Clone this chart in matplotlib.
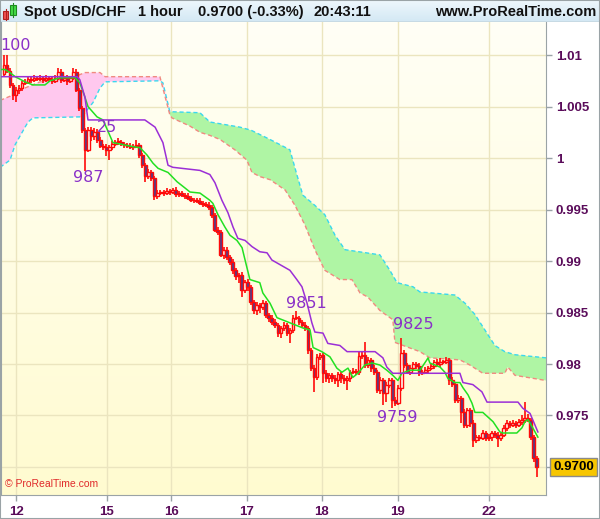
import numpy as np
import matplotlib.pyplot as plt
from matplotlib.colors import LinearSegmentedColormap
from matplotlib.patches import Rectangle
from matplotlib.transforms import blended_transform_factory

# hourly closes, Spot USD/CHF
closes = [
    1.0090, 1.0085, 1.0071, 1.0061, 1.0066, 1.0068, 1.0073, 1.0074, 1.0077, 1.0076,
    1.0078, 1.0077, 1.0078, 1.0076, 1.0078, 1.0077, 1.0075, 1.0078, 1.0084, 1.0076,
    1.0078, 1.0075, 1.0078, 1.0084, 1.0066, 1.0049, 1.0027, 1.0008, 1.0027,
    1.0021, 1.0025, 1.0018, 1.0012, 1.0011, 1.0008, 1.0011, 1.0014, 1.0016, 1.0016,
    1.0014, 1.0013, 1.0012, 1.0011, 1.0012, 1.0013, 1.0003, 0.9993, 0.9983, 0.9986,
    0.9981, 0.9963, 0.9966, 0.9967, 0.9966, 0.9968, 0.9967, 0.9969, 0.9965, 0.9966,
    0.9964, 0.9963, 0.9961, 0.9959, 0.9959, 0.9958, 0.9956, 0.9955, 0.9954, 0.9952,
    0.9945, 0.9930, 0.9928, 0.9906, 0.9911, 0.9904, 0.9899, 0.9891, 0.9885, 0.9886,
    0.9872, 0.9880, 0.9875, 0.9860, 0.9852, 0.9857, 0.9855, 0.9859, 0.9848, 0.9845,
    0.9841,
    0.9838, 0.9830, 0.9835, 0.9838, 0.9830, 0.9833, 0.9845, 0.9845, 0.9841, 0.9838,
    0.9835, 0.9814, 0.9796, 0.9787, 0.9807, 0.9809, 0.9791, 0.9786, 0.9789, 0.9786,
    0.9784, 0.9790, 0.9786, 0.9784, 0.9786, 0.9792, 0.9793, 0.9792, 0.9808, 0.9809,
    0.9799, 0.9804, 0.9796, 0.9792, 0.9775, 0.9784, 0.9772, 0.9780, 0.9784, 0.9765,
    0.9762, 0.9777, 0.9811, 0.9799, 0.9792, 0.9796, 0.9800, 0.9798, 0.9791, 0.9792,
    0.9794, 0.9796, 0.9798, 0.9802, 0.9800, 0.9802, 0.9802, 0.9804, 0.9784, 0.9781,
    0.9765, 0.9767, 0.9753, 0.9741, 0.9755, 0.9743, 0.9726, 0.9729, 0.9728, 0.9733,
    0.9728, 0.9729, 0.9733, 0.9731, 0.9728, 0.9731, 0.9738, 0.9743, 0.9741, 0.9743,
    0.9741, 0.9744, 0.9746, 0.9748, 0.9746, 0.9729, 0.9709, 0.9700,
]
first_open = 1.0082

# wick lengths in pips above / below the body
up_pips = [
    10, 10, 2, 2, 3, 3, 2, 3, 3, 2, 3, 2, 3, 2, 3, 2, 2, 3, 3, 2, 2, 3, 2, 3, 2, 2, 2, 2, 3,
    3, 4, 3, 2, 2, 3, 2, 3, 2, 3, 2, 2, 2, 3, 2, 5, 2, 2, 2, 3, 2, 2, 3, 2, 2, 3, 2, 2, 3, 2,
    2, 2, 3, 2, 2, 2, 3, 2, 2, 3, 2, 2, 3, 2, 3, 3, 2, 3, 2, 2, 3, 2, 3, 2, 2, 3, 2, 3, 2, 2, 3,
    3, 2, 2, 3, 2, 2, 3, 6, 2, 2, 3, 2, 2, 3, 3, 2, 2, 3, 2, 2, 3, 2, 2, 3, 2, 2, 3, 2, 5, 3,
    12, 3, 2, 3, 2, 3, 2, 3, 2, 2, 3, 3, 14, 3, 2, 3, 2, 2, 3, 2, 3, 2, 3, 2, 3, 4, 2, 3, 2, 3,
    2, 3, 2, 3, 2, 2, 3, 2, 2, 3, 2, 3, 2, 2, 3, 2, 3, 3, 2, 3, 2, 3, 4, 15, 3, 2, 2, 2,
]
low_pips = [
    3, 2, 3, 5, 7, 4, 3, 2, 2, 3, 2, 2, 2, 3, 2, 3, 3, 2, 2, 3, 2, 4, 2, 2, 2, 3, 3, 21, 2,
    4, 3, 3, 2, 3, 6, 10, 3, 2, 3, 2, 3, 2, 2, 3, 2, 3, 3, 6, 3, 3, 4, 3, 2, 3, 2, 3, 2, 3, 3,
    2, 3, 2, 2, 3, 2, 2, 3, 2, 2, 3, 2, 3, 2, 4, 3, 3, 4, 3, 6, 7, 3, 4, 3, 3, 4, 5, 3, 3, 4, 3,
    3, 4, 5, 3, 3, 10, 3, 2, 3, 2, 3, 4, 3, 14, 3, 3, 9, 3, 4, 3, 3, 6, 4, 3, 9, 3, 2, 3, 3, 3,
    3, 3, 4, 3, 3, 4, 12, 9, 3, 8, 3, 2, 3, 3, 2, 3, 2, 3, 3, 2, 2, 3, 2, 3, 2, 3, 2, 2, 4, 3,
    3, 3, 10, 3, 3, 4, 7, 3, 3, 2, 3, 3, 4, 3, 9, 3, 2, 3, 3, 2, 3, 2, 3, 3, 2, 3, 4, 10,
]

# Ichimoku lines (bar position, price)
tenkan_x = [-1.3, 0.3, 2.0, 3.7, 7.0, 9.6, 13.6, 15.3, 18.6, 23.6, 25.2, 26.9, 27.9, 30.9,
            32.9, 36.2, 42.9, 45.2, 47.5, 49.5, 51.2, 54.5, 57.5, 60.1, 61.8, 65.1, 68.4,
            69.4, 71.1, 73.4, 75.1, 77.4, 79.1, 80.1, 81.7, 85.0, 86.0, 88.4, 90.7, 99.3,
            101.7, 102.7, 105.6, 108.3, 110.6, 112.3, 114.3, 115.9, 117.6, 119.9, 122.3,
            124.9, 127.2, 129.2, 130.9, 132.2, 134.9, 138.2, 140.5, 140.9, 141.5, 144.9,
            146.5, 147.5, 149.8, 151.5, 152.5, 154.2, 155.5, 156.5, 159.1, 162.5, 164.8,
            165.8, 170.4, 172.1, 173.1, 174.1, 175.7, 177.4]
tenkan_y = [1.0086, 1.0086, 1.0083, 1.0079, 1.0074, 1.0071, 1.0071, 1.0075, 1.0078, 1.0078,
            1.0073, 1.0059, 1.0050, 1.0040, 1.0037, 1.0015, 1.0011, 1.0010, 1.0003, 0.9995,
            0.9990, 0.9986, 0.9977, 0.9971, 0.9967, 0.9966, 0.9959, 0.9956, 0.9945, 0.9933,
            0.9925, 0.9920, 0.9913, 0.9901, 0.9882, 0.9879, 0.9869, 0.9859, 0.9845, 0.9835,
            0.9833, 0.9816, 0.9812, 0.9807, 0.9796, 0.9792, 0.9796, 0.9787, 0.9791, 0.9799,
            0.9801, 0.9799, 0.9794, 0.9789, 0.9784, 0.9791, 0.9794, 0.9794, 0.9804, 0.9806,
            0.9801, 0.9797, 0.9792, 0.9786, 0.9782, 0.9782, 0.9777, 0.9770, 0.9762, 0.9753,
            0.9753, 0.9744, 0.9734, 0.9733, 0.9733, 0.9738, 0.9744, 0.9746, 0.9738, 0.9729]

kijun_x = [-1.3, 24.3, 25.2, 26.9, 27.9, 46.8, 50.2, 52.8, 54.5, 56.1, 65.1, 68.4, 70.1,
           72.4, 74.4, 76.1, 77.7, 80.1, 82.4, 85.0, 87.4, 89.0, 95.0, 97.3, 99.0, 100.7,
           102.3, 103.3, 106.0, 107.6, 111.6, 114.0, 123.3, 125.9, 127.2, 129.2, 151.5,
           152.5, 155.8, 158.8, 160.5, 170.8, 172.4, 174.8, 176.4, 177.4]
kijun_y = [1.0079, 1.0079, 1.0076, 1.0059, 1.0037, 1.0037, 1.0030, 1.0015, 0.9993, 0.9991,
           0.9988, 0.9984, 0.9976, 0.9959, 0.9947, 0.9933, 0.9922, 0.9920, 0.9914, 0.9909,
           0.9908, 0.9901, 0.9891, 0.9882, 0.9875, 0.9859, 0.9840, 0.9831, 0.9830, 0.9820,
           0.9818, 0.9812, 0.9812, 0.9806, 0.9797, 0.9791, 0.9791, 0.9782, 0.9780, 0.9773,
           0.9763, 0.9763, 0.9757, 0.9752, 0.9741, 0.9734]

span_a_x = [-1.3, 2.0, 3.7, 7.0, 8.0, 9.6, 25.9, 26.9, 29.6, 31.9, 33.6, 51.8, 52.8, 55.1,
            65.1, 68.4, 78.4, 82.1, 88.4, 95.0, 97.3, 99.3, 103.3, 106.6, 110.0, 113.3,
            124.9, 128.2, 130.6, 135.9, 138.2, 149.8, 153.2, 156.5, 159.8, 163.1, 166.4,
            169.8, 180.1]
span_a_y = [0.9991, 0.9998, 1.0013, 1.0030, 1.0035, 1.0039, 1.0040, 1.0044, 1.0054, 1.0068,
            1.0074, 1.0075, 1.0073, 1.0045, 1.0044, 1.0035, 1.0030, 1.0027, 1.0018, 1.0008,
            0.9984, 0.9964, 0.9954, 0.9945, 0.9925, 0.9911, 0.9906, 0.9891, 0.9879, 0.9875,
            0.9870, 0.9867, 0.9859, 0.9848, 0.9833, 0.9818, 0.9812, 0.9809, 0.9806]

span_b_x = [-1.3, 2.0, 5.3, 8.6, 12.0, 16.9, 21.9, 25.2, 26.9, 31.9, 33.6, 51.8, 55.1, 55.8,
            61.8, 65.1, 68.4, 71.8, 76.7, 80.7, 82.4, 85.0, 88.4, 93.4, 96.7, 100.0, 103.3,
            106.6, 111.6, 115.6, 118.3, 120.9, 124.9, 129.2, 129.9, 132.6, 138.2, 141.5,
            151.5, 154.8, 159.1, 166.4, 167.4, 169.8, 180.1]
span_b_y = [1.0056, 1.0060, 1.0066, 1.0070, 1.0074, 1.0076, 1.0077, 1.0081, 1.0083, 1.0083,
            1.0079, 1.0079, 1.0042, 1.0039, 1.0031, 1.0025, 1.0022, 1.0018, 1.0008, 0.9998,
            0.9986, 0.9982, 0.9979, 0.9969, 0.9954, 0.9935, 0.9911, 0.9891, 0.9882, 0.9882,
            0.9869, 0.9865, 0.9852, 0.9843, 0.9821, 0.9818, 0.9812, 0.9806, 0.9804, 0.9799,
            0.9791, 0.9791, 0.9797, 0.9789, 0.9784]

day_pos = [4.0, 34.2, 55.5, 80.7, 105.6, 130.9, 161.1]
day_labels = ['12', '15', '16', '17', '18', '19', '22']
price_ticks = [0.975, 0.98, 0.985, 0.99, 0.995, 1.0, 1.005, 1.01]
price_labels = ['0.975', '0.98', '0.985', '0.99', '0.995', '1', '1.005', '1.01']
last_price = 0.9700

notes = [('100', -1.3, 1.0109), ('25', 30.9, 1.0030), ('987', 22.9, 0.9981),
         ('9851', 93.7, 0.9859), ('9825', 129.2, 0.9838), ('9759', 123.9, 0.97485)]

W, H = 600, 519
fig = plt.figure(figsize=(W / 100, H / 100), dpi=100)
fig.patch.set_facecolor('white')
ax = fig.add_axes([1 / W, 24 / H, 545 / W, 473 / H])
x0, x1, y0, y1 = -1.0, 180.1, 0.96728, 1.01321
ax.set_xlim(x0, x1)
ax.set_ylim(y0, y1)

bg = LinearSegmentedColormap.from_list('bg', ['#fffff6', '#fffbd0'])
ax.imshow(np.linspace(0, 1, 256).reshape(-1, 1), extent=[x0, x1, y0, y1],
          aspect='auto', cmap=bg, origin='upper', zorder=0)

ax.set_xticks(day_pos)
ax.set_xticklabels(day_labels)
ax.set_yticks(price_ticks + [last_price])
ax.set_yticklabels(price_labels + [''])
ax.yaxis.tick_right()
ax.set_axisbelow(True)
ax.grid(color='#ebe5bf', lw=1)
ax.tick_params(colors='#9aa3a6', labelcolor='#5a0c5a', length=4, width=1, labelsize=9.5)
ax.tick_params(axis='y', pad=3)
ax.tick_params(axis='x', pad=4)
for lab in ax.get_xticklabels() + ax.get_yticklabels():
    lab.set_fontweight('bold')
    lab.set_family('Liberation Sans')
for side in ['left', 'right', 'bottom']:
    ax.spines[side].set_color('#9aa3a6')
ax.spines['top'].set_visible(False)

# cloud
cut = 55.1
ax_ = np.array(span_a_x); ay_ = np.array(span_a_y)
bx_ = np.array(span_b_x); by_ = np.array(span_b_y)
pink = np.concatenate([np.c_[bx_[bx_ <= cut], by_[bx_ <= cut]],
                       np.c_[ax_[ax_ <= cut], ay_[ax_ <= cut]][::-1]])
green = np.concatenate([np.c_[ax_[ax_ >= cut], ay_[ax_ >= cut]],
                        np.c_[bx_[bx_ >= cut], by_[bx_ >= cut]][::-1]])
ax.fill(pink[:, 0], pink[:, 1], color='#ffc8ee', lw=0, zorder=1)
ax.fill(green[:, 0], green[:, 1], color='#aff5a4', lw=0, zorder=1)
ax.plot(span_a_x, span_a_y, color='#3ad8ee', lw=1, ls=(0, (3, 2)), zorder=2)
ax.plot(span_b_x, span_b_y, color='#f08a80', lw=1, ls=(0, (3, 2)), zorder=2)

# candles
opens = [first_open] + closes[:-1]
for i, (o, c, u, d) in enumerate(zip(opens, closes, up_pips, low_pips)):
    top, bot = max(o, c), min(o, c)
    ax.vlines(i, bot - d * 0.0001, top + u * 0.0001, color='#ff0a0a', lw=1.2, zorder=3)
    face = '#4c3d8c' if c < o else '#fffff4'
    ax.bar(i, max(top - bot, 0.00005), bottom=bot, width=0.9, color=face,
           edgecolor='#ff0a0a', lw=1.0, zorder=4)

ax.plot(tenkan_x, tenkan_y, color='#22e022', lw=1.1, zorder=5)
ax.plot(kijun_x, kijun_y, color='#9b2fd6', lw=1.1, zorder=5)

for txt, nx, ny in notes:
    ax.text(nx, ny, txt, color='#8a30c8', fontsize=11.5, va='center', ha='left',
            family='DejaVu Sans', zorder=6)

ax.text(4 / 545, 6 / 473, '\u00a9 ProRealTime.com', transform=ax.transAxes,
        color='#e02a2a', fontsize=7.5, family='Liberation Sans', va='bottom', zorder=6)

# last price box
tr = blended_transform_factory(ax.transAxes, ax.transData)
ax.text(1 + 7 / 545, last_price, '0.9700', transform=tr, va='center', ha='left',
        fontsize=9.5, fontweight='bold', family='Liberation Sans', color='black',
        bbox=dict(boxstyle='square,pad=0.22', fc='#f7c600', ec='#8a8a8a', lw=1),
        clip_on=False, zorder=7)

# header bar
hx = fig.add_axes([0, 497 / H, 1, 22 / H])
hx.imshow(np.linspace(0, 1, 64).reshape(-1, 1), extent=[0, W, 22, 0], aspect='auto',
          cmap=LinearSegmentedColormap.from_list('hd', ['#eef7fc', '#d3e8f4']),
          origin='upper')
hx.set_xlim(0, W)
hx.set_ylim(22, 0)
hx.axis('off')
hx.add_patch(Rectangle((3, 11), 5, 8, fc='#f05050', ec='#b02020', lw=0.8))
hx.plot([5.5, 5.5], [9, 20], color='#b02020', lw=0.8)
hx.add_patch(Rectangle((10, 5), 6, 10, fc='#44dd44', ec='#208a20', lw=0.8))
hx.plot([13, 13], [3, 17], color='#208a20', lw=0.8)
hfont = dict(fontsize=10.5, fontweight='bold', family='Liberation Sans', va='center',
             color='#111111')
hx.text(24, 12, 'Spot USD/CHF', **hfont)
hx.text(138, 12, '1 hour', **hfont)
hx.text(198, 12, '0.9700 (-0.33%)', **hfont)
hx.text(314, 12, '20:43:11', **hfont)
hx.text(596, 12, 'www.ProRealTime.com', ha='right', **hfont)
hx.plot([0, W], [21.5, 21.5], color='#9aa3a6', lw=1)

fig.add_artist(Rectangle((0, 0), 1, 1, transform=fig.transFigure, fill=False,
                         ec='#9aa3a6', lw=1.5))

fig.savefig('out.png', dpi=100)
